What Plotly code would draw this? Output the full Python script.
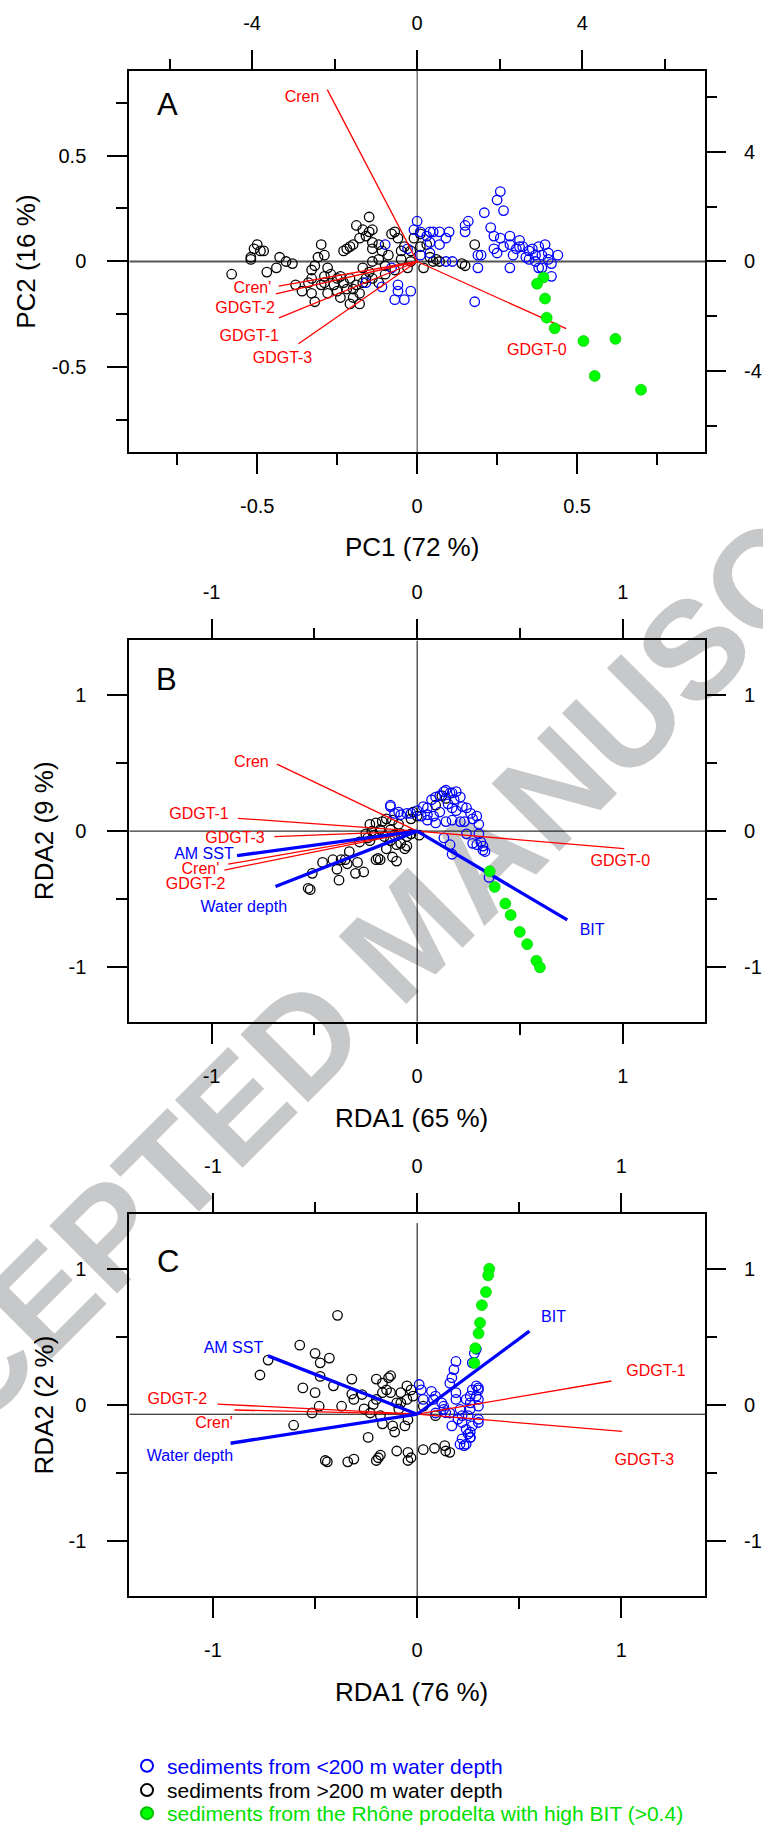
import plotly.graph_objects as go

FONT = "Liberation Sans, Arial, Helvetica, sans-serif"
RED = "#FF0000"
BLUE = "#0000FF"
GREEN = "#00FF00"
BLACK = "#000000"

# ---------------- Panel A : PCA of GDGT distributions ----------------
a_deep_x = [-0.58, -0.52, -0.52, -0.50, -0.51, -0.49, -0.48, -0.47, -0.44, -0.43,
            -0.41, -0.39, -0.38, -0.34, -0.33, -0.33, -0.32, -0.31, -0.30, -0.29,
            -0.28, -0.29, -0.30, -0.33, -0.32, -0.28, -0.26, -0.25, -0.24, -0.23,
            -0.22, -0.24, -0.21, -0.20, -0.19, -0.21, -0.17, -0.16, -0.17, -0.14,
            -0.15, -0.12, -0.11, -0.10, -0.09, -0.08, -0.07, -0.06, -0.05, -0.05,
            -0.04, -0.03, -0.02, -0.01, -0.02, -0.15, -0.19, -0.17, -0.15, -0.14,
            -0.16, -0.18, -0.14, -0.23, -0.22, -0.21, -0.20, -0.14, -0.12, 0.01,
            0.03, 0.02, 0.04, 0.05, 0.06, 0.07, 0.14, 0.15, 0.18, 0.01,
            -0.25, -0.20, -0.18, -0.27, -0.14, -0.12, -0.07, -0.10, -0.29, -0.36, -0.18]
a_deep_y = [-0.06, 0.01, 0.02, 0.08, 0.06, 0.05, 0.05, -0.05, -0.03, 0.02,
            0.00, -0.01, -0.11, -0.10, -0.08, -0.04, -0.02, 0.02, 0.08, 0.03,
            -0.03, -0.07, -0.11, -0.15, -0.19, -0.15, -0.11, -0.08, -0.07, -0.10,
            -0.13, -0.17, -0.20, -0.17, -0.11, -0.08, -0.10, -0.08, -0.03, 0.00,
            -0.05, 0.01, 0.05, -0.02, 0.03, 0.13, 0.14, 0.11, 0.05, 0.01,
            0.07, -0.03, 0.05, 0.11, 0.00, 0.21, 0.17, 0.15, 0.14, 0.15,
            0.12, 0.11, 0.09, 0.05, 0.06, 0.07, 0.08, 0.06, 0.08, 0.13,
            0.08, -0.03, 0.02, 0.00, 0.01, 0.00, -0.01, -0.02, 0.08, 0.07,
            -0.14, -0.13, -0.15, -0.06, -0.08, -0.10, -0.04, -0.06, -0.10, -0.14, -0.20]
a_shallow_x = [0.26, 0.25, 0.27, 0.21, 0.16, 0.15, 0.15, 0.23, 0.00, -0.01,
               0.01, 0.03, 0.04, 0.05, 0.07, 0.10, 0.09, 0.07, 0.04, 0.04,
               0.01, -0.03, -0.10, 0.09, 0.11, 0.19, 0.19, 0.20, 0.24, 0.25,
               0.24, 0.26, 0.29, 0.32, 0.29, 0.31, 0.33, 0.35, 0.36, 0.38,
               0.40, 0.37, 0.39, 0.41, 0.41, 0.42, 0.44, 0.35, 0.37, 0.29,
               0.39, 0.42, 0.18, -0.02, -0.04, -0.07, -0.06, -0.06, -0.11, -0.16,
               -0.08, 0.32, 0.34, 0.30, 0.27, 0.38]
a_shallow_y = [0.33, 0.29, 0.24, 0.23, 0.19, 0.17, 0.14, 0.16, 0.19, 0.15,
               0.14, 0.12, 0.14, 0.14, 0.14, 0.14, 0.11, 0.08, 0.09, 0.04,
               0.03, 0.06, 0.08, 0.00, 0.00, 0.03, -0.03, 0.03, 0.06, 0.04,
               0.12, 0.11, 0.12, 0.10, 0.08, 0.06, 0.07, 0.05, 0.06, 0.07,
               0.08, 0.03, 0.03, 0.04, 0.01, -0.01, 0.03, 0.01, 0.00, -0.03,
               -0.03, -0.07, -0.19, -0.14, -0.18, -0.18, -0.14, -0.11, -0.12, -0.10,
               -0.03, 0.07, 0.02, 0.03, 0.07, -0.03]
a_prodelta_x = [0.395, 0.375, 0.40, 0.405, 0.43, 0.52, 0.62, 0.555, 0.70]
a_prodelta_y = [-0.075, -0.105, -0.175, -0.265, -0.315, -0.375, -0.365, -0.54, -0.605]

a_gdgt_names = ["Cren", "Cren'", "GDGT-2", "GDGT-1", "GDGT-3", "GDGT-0"]
a_gdgt_x = [-0.281, -0.433, -0.442, -0.432, -0.371, 0.466]
a_gdgt_y = [0.811, -0.116, -0.153, -0.266, -0.388, -0.317]
a_gdgt_label_x = [-0.36, -0.515, -0.538, -0.525, -0.421, 0.374]
a_gdgt_label_y = [0.77, -0.13, -0.225, -0.354, -0.46, -0.42]

# ---------------- Panel B : RDA with all GDGTs ----------------
b_deep_x = [-0.53, -0.52, -0.51, -0.46, -0.41, -0.39, -0.38, -0.37, -0.34, -0.33,
            -0.29, -0.30, -0.26, -0.28, -0.23, -0.22, -0.23, -0.20, -0.19, -0.20,
            -0.18, -0.15, -0.12, -0.10, -0.10, -0.08, -0.06, -0.05, -0.18, -0.17,
            -0.15, -0.12, -0.09, -0.13, -0.11, -0.08, -0.05, -0.03, -0.03, 0.00,
            0.01, 0.09, 0.12, 0.14, -0.02, -0.21, -0.16, -0.13, -0.25, -0.35, -0.24]
b_deep_y = [-0.42, -0.43, -0.31, -0.23, -0.21, -0.28, -0.36, -0.21, -0.24, -0.15,
            -0.23, -0.31, -0.30, -0.08, -0.07, 0.00, 0.05, 0.06, -0.20, -0.21,
            -0.21, -0.13, -0.19, -0.22, -0.10, -0.09, -0.13, -0.11, 0.01, 0.07,
            0.09, 0.08, 0.05, 0.01, -0.03, -0.02, -0.04, -0.02, 0.09, 0.11,
            -0.03, 0.19, 0.26, 0.24, 0.14, -0.03, -0.04, -0.07, -0.02, -0.21, -0.05]
b_shallow_x = [-0.13, -0.13, -0.11, -0.09, -0.08, -0.05, -0.03, 0.00, 0.03, 0.05,
               0.05, 0.08, 0.09, 0.09, 0.11, 0.13, 0.14, 0.16, 0.17, 0.19,
               0.21, 0.18, 0.15, 0.17, 0.19, 0.22, 0.24, 0.26, 0.27, 0.29,
               0.30, 0.23, 0.21, 0.17, 0.14, 0.11, 0.24, 0.27, 0.29, 0.31,
               0.32, 0.33, 0.32, 0.30, 0.13, 0.16, 0.17, 0.35, 0.05, 0.02, 0.07]
b_shallow_y = [0.18, 0.19, 0.13, 0.14, 0.12, 0.13, 0.13, 0.15, 0.18, 0.17,
               0.12, 0.11, 0.06, 0.25, 0.26, 0.29, 0.30, 0.28, 0.28, 0.29,
               0.25, 0.23, 0.20, 0.17, 0.15, 0.18, 0.17, 0.13, 0.09, 0.11,
               0.05, 0.07, 0.07, 0.08, 0.07, 0.14, -0.02, -0.09, -0.10, -0.08,
               -0.11, -0.15, -0.14, -0.02, -0.05, -0.10, -0.17, -0.34, 0.08, 0.11, 0.23]
b_prodelta_x = [0.353, 0.377, 0.429, 0.455, 0.499, 0.535, 0.580, 0.597]
b_prodelta_y = [-0.295, -0.410, -0.532, -0.616, -0.740, -0.830, -0.952, -1.0]

b_gdgt_names = ["Cren", "GDGT-1", "GDGT-3", "Cren'", "GDGT-2", "GDGT-0"]
b_gdgt_x = [-0.682, -0.872, -0.694, -0.919, -0.938, 1.007]
b_gdgt_y = [0.492, 0.094, -0.041, -0.243, -0.286, -0.129]
b_gdgt_label_x = [-0.806, -1.061, -0.886, -1.054, -1.078, 0.988]
b_gdgt_label_y = [0.503, 0.119, -0.058, -0.283, -0.399, -0.226]

b_env_names = ["AM SST", "Water depth", "BIT"]
b_env_x = [-0.876, -0.689, 0.730]
b_env_y = [-0.180, -0.407, -0.652]
b_env_label_x = [-1.037, -0.843, 0.851]
b_env_label_y = [-0.172, -0.563, -0.734]

# ---------------- Panel C : RDA with reduced GDGT set ----------------
c_deep_x = [-0.39, -0.575, -0.50, -0.475, -0.43, -0.73, -0.77, -0.475, -0.56, -0.50,
            -0.41, -0.32, -0.32, -0.31, -0.27, -0.37, -0.48, -0.515, -0.605, -0.24,
            -0.20, -0.17, -0.14, -0.13, -0.15, -0.13, -0.17, -0.20, -0.215, -0.23,
            -0.18, -0.17, -0.12, -0.11, -0.06, -0.045, -0.05, -0.08, -0.05, -0.03,
            -0.02, -0.10, -0.045, -0.03, 0.03, 0.085, 0.135, 0.14, 0.16, -0.45,
            -0.44, -0.34, -0.31, -0.20, -0.19, -0.18, -0.045, -0.26, -0.09, -0.10,
            -0.08, 0.03, 0.09]
c_deep_y = [0.66, 0.44, 0.38, 0.31, 0.345, 0.33, 0.22, 0.21, 0.125, 0.09,
            0.14, 0.19, 0.08, 0.04, 0.076, -0.01, -0.01, -0.06, -0.15, -0.24,
            0.19, 0.16, 0.20, 0.215, 0.11, 0.09, 0.09, 0.04, 0.003, -0.06,
            -0.08, -0.14, -0.155, -0.20, -0.155, -0.11, 0.04, 0.09, 0.14, 0.11,
            0.064, -0.34, -0.35, -0.39, -0.33, -0.32, -0.30, -0.34, -0.35, -0.41,
            -0.42, -0.42, -0.40, -0.41, -0.39, -0.37, -0.41, -0.03, -0.03, 0.015,
            0.015, -0.01, -0.08]
c_shallow_x = [0.01, 0.02, 0.03, 0.07, 0.08, 0.09, 0.12, 0.13, 0.14, 0.16,
               0.17, 0.18, 0.19, 0.13, 0.19, 0.21, 0.22, 0.22, 0.24, 0.25,
               0.26, 0.24, 0.23, 0.22, 0.25, 0.26, 0.26, 0.26, 0.27, 0.29,
               0.30, 0.30, 0.29, 0.30, 0.30, 0.30, 0.30, 0.27, 0.26, 0.26,
               0.21, 0.27, 0.28, 0.29, 0.09, 0.16, 0.17, 0.20, 0.19, 0.24]
c_shallow_y = [0.15, 0.11, 0.04, 0.10, 0.04, 0.064, 0.015, -0.033, -0.058, 0.16,
               0.20, 0.26, 0.32, -0.01, 0.09, -0.033, -0.08, -0.13, -0.18, -0.215,
               -0.24, -0.29, -0.30, -0.25, -0.08, -0.03, 0.015, 0.064, 0.11, 0.14,
               0.125, 0.11, 0.064, 0.04, -0.01, -0.106, -0.13, -0.155, -0.20, -0.24,
               -0.29, 0.31, 0.38, 0.41, -0.06, -0.06, -0.155, -0.106, 0.04, 0.04]
c_prodelta_x = [0.353, 0.348, 0.337, 0.317, 0.308, 0.301, 0.285, 0.280]
c_prodelta_y = [1.003, 0.955, 0.832, 0.735, 0.605, 0.527, 0.418, 0.308]

c_origin = (0.0, -0.069)
c_gdgt_names = ["GDGT-2", "Cren'", "GDGT-1", "GDGT-3"]
c_gdgt_x = [-0.978, -0.895, 0.952, 1.004]
c_gdgt_y = [0.006, -0.038, 0.176, -0.195]
c_gdgt_label_x = [-1.175, -0.995, 1.17, 1.113]
c_gdgt_label_y = [0.035, -0.141, 0.239, -0.415]

c_env_names = ["AM SST", "Water depth", "BIT"]
c_env_x = [-0.730, -0.914, 0.550]
c_env_y = [0.361, -0.283, 0.544]
c_env_label_x = [-0.90, -1.113, 0.668]
c_env_label_y = [0.409, -0.384, 0.639]

# ---------------- axis ticks ----------------
pc_ticks = [-0.5, 0, 0.5]
pc_tick_text = ["-0.5", "0", "0.5"]
pc_minor = [-0.75, -0.25, 0.25, 0.75]
score_ticks = [-4, 0, 4]
score_tick_text = ["-4", "0", "4"]
score_minor = [-6, -2, 2, 6]
rda_ticks = [-1, 0, 1]
rda_tick_text = ["-1", "0", "1"]
rda_minor = [-0.5, 0.5]

legend_names = ["sediments from &lt;200 m water depth",
                "sediments from &gt;200 m water depth",
                "sediments from the Rhône prodelta with high BIT (&gt;0.4)"]

# ---------------- figure geometry ----------------
W, H = 763, 1834
X_DOM = [129.3 / W, 705.0 / W]

def ydom(top_px, bottom_px):
    return [1 - bottom_px / H, 1 - top_px / H]

panels = [
    dict(tag="A", ydom=ydom(71.3, 456.0), rng=0.9, rng2=6.975,
         ticks=(pc_ticks, pc_tick_text, pc_minor),
         ticks2=(score_ticks, score_tick_text, score_minor),
         deep=(a_deep_x, a_deep_y), shallow=(a_shallow_x, a_shallow_y),
         prodelta=(a_prodelta_x, a_prodelta_y),
         gdgt=(a_gdgt_names, a_gdgt_x, a_gdgt_y, a_gdgt_label_x, a_gdgt_label_y),
         env=None, origin=(0.0, 0.0), vtop=0.9,
         hline=dict(color="#555555", width=1.8), vline=dict(color="#333333", width=1),
         xtitle="PC1 (72 %)", ytitle="PC2 (16 %)",
         xtitle_px=(412, 552), ytitle_px=(26, 264), tag_xy=(-0.78, 0.74)),
    dict(tag="B", ydom=ydom(645.7, 1030.2), rng=1.4, rng2=1.4,
         ticks=(rda_ticks, rda_tick_text, rda_minor),
         ticks2=(rda_ticks, rda_tick_text, rda_minor),
         deep=(b_deep_x, b_deep_y), shallow=(b_shallow_x, b_shallow_y),
         prodelta=(b_prodelta_x, b_prodelta_y),
         gdgt=(b_gdgt_names, b_gdgt_x, b_gdgt_y, b_gdgt_label_x, b_gdgt_label_y),
         env=(b_env_names, b_env_x, b_env_y, b_env_label_x, b_env_label_y),
         origin=(0.0, 0.0), vtop=1.4,
         hline=dict(color=BLACK, width=1), vline=dict(color=BLACK, width=1),
         xtitle="RDA1 (65 %)", ytitle="RDA2 (9 %)",
         xtitle_px=(412, 1127.5), ytitle_px=(44, 838), tag_xy=(-1.22, 1.11)),
    dict(tag="C", ydom=ydom(1223.6, 1609.3), rng=1.41, rng2=1.41,
         ticks=(rda_ticks, rda_tick_text, rda_minor),
         ticks2=(rda_ticks, rda_tick_text, rda_minor),
         deep=(c_deep_x, c_deep_y), shallow=(c_shallow_x, c_shallow_y),
         prodelta=(c_prodelta_x, c_prodelta_y),
         gdgt=(c_gdgt_names, c_gdgt_x, c_gdgt_y, c_gdgt_label_x, c_gdgt_label_y),
         env=(c_env_names, c_env_x, c_env_y, c_env_label_x, c_env_label_y),
         origin=c_origin, vtop=1.34,
         hline=dict(color=BLACK, width=1), vline=dict(color=BLACK, width=1),
         xtitle="RDA1 (76 %)", ytitle="RDA2 (2 %)",
         xtitle_px=(412, 1706), ytitle_px=(44, 1417), tag_xy=(-1.22, 1.054)),
]

TICK_FONT = dict(family=FONT, size=20, color=BLACK)
MAJOR_LEN, MINOR_LEN, TICK_W = 20, 11, 1.8

fig = go.Figure()
shapes = []
annotations = []

def axis_common(vals, text, minor, rng):
    return dict(
        range=[-rng, rng], tickmode="array", tickvals=vals, ticktext=text,
        ticks="outside", ticklen=MAJOR_LEN, tickwidth=TICK_W, tickcolor=BLACK,
        minor=dict(tickmode="array", tickvals=minor, ticks="outside",
                   ticklen=MINOR_LEN, tickwidth=TICK_W, tickcolor=BLACK, showgrid=False),
        showgrid=False, zeroline=False, tickfont=TICK_FONT, fixedrange=True,
    )

for i, p in enumerate(panels):
    n1, n2 = 2 * i + 1, 2 * i + 2
    xa = "x" if n1 == 1 else f"x{n1}"
    ya = "y" if n1 == 1 else f"y{n1}"
    xb, yb = f"x{n2}", f"y{n2}"
    xa_key = "xaxis" if n1 == 1 else f"xaxis{n1}"
    ya_key = "yaxis" if n1 == 1 else f"yaxis{n1}"

    tv, tt, tm = p["ticks"]
    tv2, tt2, tm2 = p["ticks2"]

    fig.layout[xa_key] = dict(domain=X_DOM, anchor=ya, side="bottom",
                              showline=True, mirror=True, linecolor=BLACK, linewidth=2,
                              ticklabelstandoff=15,
                              **axis_common(tv, tt, tm, p["rng"]))
    fig.layout[ya_key] = dict(domain=p["ydom"], anchor=xa, side="left",
                              showline=True, mirror=True, linecolor=BLACK, linewidth=2,
                              ticklabelstandoff=17,
                              **axis_common(tv, tt, tm, p["rng"]))
    fig.layout[f"xaxis{n2}"] = dict(overlaying=xa, anchor=yb, side="top",
                                    showline=False, ticklabelstandoff=12,
                                    **axis_common(tv2, tt2, tm2, p["rng2"]))
    fig.layout[f"yaxis{n2}"] = dict(overlaying=ya, anchor=xb, side="right",
                                    showline=False, ticklabelstandoff=14,
                                    **axis_common(tv2, tt2, tm2, p["rng2"]))

    # secondary (score-scale) axes carry no marks of their own
    fig.add_trace(go.Scatter(x=[], y=[], xaxis=xb, yaxis=yb,
                             showlegend=False, hoverinfo="skip"))

    ox, oy = p["origin"]
    # cross-hair through the ordination origin
    shapes.append(dict(type="line", xref=xa, yref=ya, layer="below",
                       x0=-p["rng"], x1=p["rng"], y0=oy, y1=oy, line=p["hline"]))
    shapes.append(dict(type="line", xref=xa, yref=ya, layer="below",
                       x0=ox, x1=ox, y0=-p["rng"], y1=p["vtop"], line=p["vline"]))

    first = i == 0
    dx, dy = p["deep"]
    fig.add_trace(go.Scatter(
        x=dx, y=dy, xaxis=xa, yaxis=ya, mode="markers", name=legend_names[1],
        legend="legend2", showlegend=first, hoverinfo="skip",
        marker=dict(symbol="circle-open", size=9.5, color=BLACK, line=dict(width=1.3, color=BLACK))))
    sx, sy = p["shallow"]
    fig.add_trace(go.Scatter(
        x=sx, y=sy, xaxis=xa, yaxis=ya, mode="markers", name=legend_names[0],
        legend="legend", showlegend=first, hoverinfo="skip",
        marker=dict(symbol="circle-open", size=9.5, color=BLUE, line=dict(width=1.3, color=BLUE))))

    # GDGT loadings (red) and environmental vectors (blue)
    names, vx, vy, lx, ly = p["gdgt"]
    for ex, ey in zip(vx, vy):
        fig.add_trace(go.Scatter(x=[ox, ex], y=[oy, ey], xaxis=xa, yaxis=ya, mode="lines",
                                 line=dict(color=RED, width=1.3), showlegend=False, hoverinfo="skip"))
    if p["env"] is not None:
        enames, evx, evy, elx, ely = p["env"]
        for ex, ey in zip(evx, evy):
            fig.add_trace(go.Scatter(x=[ox, ex], y=[oy, ey], xaxis=xa, yaxis=ya, mode="lines",
                                     line=dict(color=BLUE, width=3.3), showlegend=False, hoverinfo="skip"))

    gx, gy = p["prodelta"]
    fig.add_trace(go.Scatter(
        x=gx, y=gy, xaxis=xa, yaxis=ya, mode="markers", name=legend_names[2],
        legend="legend3", showlegend=first, hoverinfo="skip",
        marker=dict(symbol="circle", size=11, color=GREEN, line=dict(width=0.6, color="#00C000"))))

    fig.add_trace(go.Scatter(x=lx, y=ly, text=names, xaxis=xa, yaxis=ya, mode="text",
                             textposition="middle center",
                             textfont=dict(family=FONT, size=16, color=RED),
                             showlegend=False, hoverinfo="skip"))
    if p["env"] is not None:
        fig.add_trace(go.Scatter(x=elx, y=ely, text=enames, xaxis=xa, yaxis=ya, mode="text",
                                 textposition="middle center",
                                 textfont=dict(family=FONT, size=16, color=BLUE),
                                 showlegend=False, hoverinfo="skip"))

    # panel letter
    annotations.append(dict(text=p["tag"], xref=xa, yref=ya, x=p["tag_xy"][0], y=p["tag_xy"][1],
                            showarrow=False, xanchor="center", yanchor="middle",
                            font=dict(family=FONT, size=31, color=BLACK)))
    # axis titles
    tx, ty = p["xtitle_px"]
    annotations.append(dict(text=p["xtitle"], xref="paper", yref="paper", x=tx / W, y=1 - ty / H,
                            showarrow=False, xanchor="center", yanchor="middle",
                            font=dict(family=FONT, size=26, color=BLACK)))
    tx, ty = p["ytitle_px"]
    annotations.append(dict(text=p["ytitle"], xref="paper", yref="paper", x=tx / W, y=1 - ty / H,
                            showarrow=False, xanchor="center", yanchor="middle", textangle=-90,
                            font=dict(family=FONT, size=26, color=BLACK)))

# watermark across the page, underneath the plotted data
WM_X, WM_Y = 400 / W, 1 - 931 / H
shapes.insert(0, dict(type="rect", xref="paper", yref="paper", layer="below",
                      x0=WM_X - 0.005, x1=WM_X + 0.005, y0=WM_Y - 0.002, y1=WM_Y + 0.002,
                      line=dict(width=0), fillcolor="rgba(0,0,0,0)",
                      label=dict(text="ACCEPTED MANUSCRIPT", textangle=-45,
                                 textposition="middle center",
                                 xanchor="center", yanchor="middle",
                                 font=dict(family=FONT, size=139, color="rgb(199,200,202)",
                                           weight="bold"))))

def legend_box(y_px, color):
    return dict(x=127 / W, y=1 - y_px / H, xanchor="left", yanchor="middle",
                bgcolor="rgba(0,0,0,0)", borderwidth=0, itemsizing="constant",
                font=dict(family=FONT, size=21, color=color))

fig.update_layout(
    width=W, height=H, margin=dict(l=0, r=0, t=0, b=0),
    paper_bgcolor="white", plot_bgcolor="white",
    font=dict(family=FONT, color=BLACK), hovermode=False,
    shapes=shapes, annotations=annotations,
    legend=legend_box(1780.6, BLUE),
    legend2=legend_box(1805.2, BLACK),
    legend3=legend_box(1828.8, "#00E000"),
)

fig.write_html("out.html")
